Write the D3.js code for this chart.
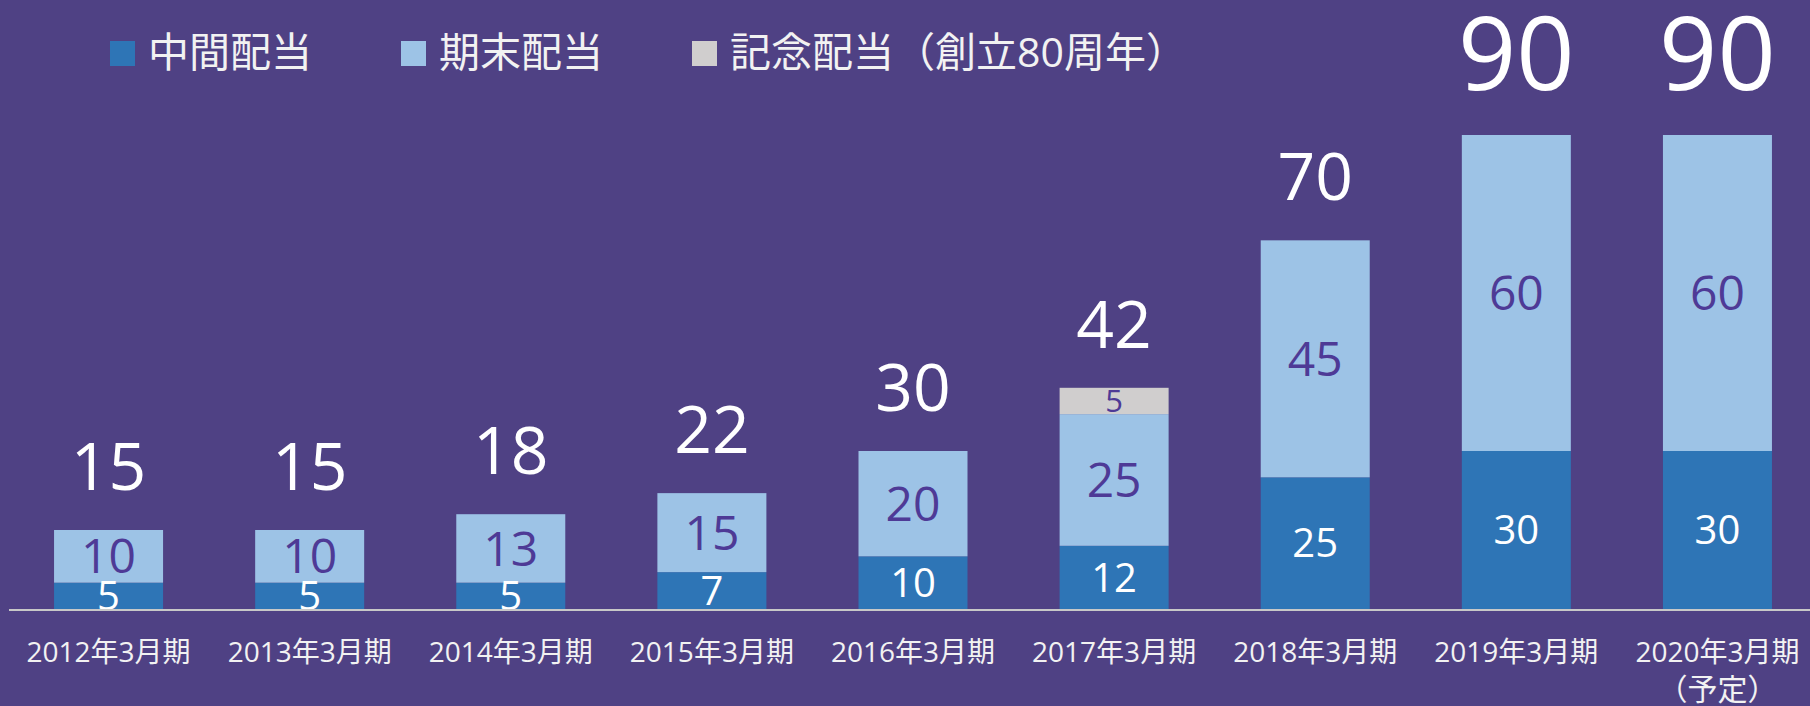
<!DOCTYPE html>
<html>
<head>
<meta charset="utf-8">
<script src="https://cdn.jsdelivr.net/npm/d3@7"></script>
<style>
  html, body { margin: 0; padding: 0; background: #4f4184; }
  svg { display: block; }
  text { font-family: "Open Sans", "Noto Sans CJK JP", sans-serif; }
</style>
</head>
<body>
<div id="chart"></div>
<script>
// 配当の推移（円）
const categories = ["2012年3月期", "2013年3月期", "2014年3月期", "2015年3月期", "2016年3月期",
                    "2017年3月期", "2018年3月期", "2019年3月期", "2020年3月期\n（予定）"];
const interim = [5, 5, 5, 7, 10, 12, 25, 30, 30];          // 中間配当
const yearEnd = [10, 10, 13, 15, 20, 25, 45, 60, 60];      // 期末配当
const commemorative = [0, 0, 0, 0, 0, 5, 0, 0, 0];         // 記念配当
const seriesNames = ["中間配当", "期末配当", "記念配当（創立80周年）"];

const width = 1810, height = 706;
const colors = ["#2e75b6", "#9dc3e6", "#d0cece"];
const labelColors = ["#ffffff", "#4e3a96", "#4e3a96"];
const labelSizes = [40, 48, 31];

const rows = categories.map((c, i) => ({cat: c, interim: interim[i], yearEnd: yearEnd[i], commemorative: commemorative[i]}));
const keys = ["interim", "yearEnd", "commemorative"];
const stacked = d3.stack().keys(keys)(rows);
const totals = rows.map(d => d.interim + d.yearEnd + d.commemorative);
const maxTotal = d3.max(totals);

const svg = d3.select("#chart").append("svg")
  .attr("width", width).attr("height", height);
svg.append("rect").attr("width", width).attr("height", height).attr("fill", "#4f4184");

const x = d3.scaleBand().domain(categories).range([8, 1818])
  .paddingInner(0.458).paddingOuter(0.229);
const y = d3.scaleLinear().domain([0, 90]).range([609, 135]);

// bars
const layers = svg.selectAll("g.layer").data(stacked).enter().append("g")
  .attr("class", "layer").attr("fill", (d, i) => colors[i]);
layers.selectAll("rect").data(d => d.filter(s => s[1] > s[0])).enter().append("rect")
  .attr("x", d => x(d.data.cat))
  .attr("width", x.bandwidth())
  .attr("y", d => y(d[1]))
  .attr("height", d => y(d[0]) - y(d[1]));

// segment labels
stacked.forEach((layer, li) => {
  const fs = labelSizes[li];
  svg.append("g").selectAll("text").data(layer.filter(s => s[1] > s[0])).enter().append("text")
    .attr("x", d => x(d.data.cat) + x.bandwidth() / 2)
    .attr("y", d => (y(d[0]) + y(d[1])) / 2 + fs * 0.357)
    .attr("text-anchor", "middle")
    .attr("font-size", fs)
    .attr("fill", labelColors[li])
    .text(d => d[1] - d[0]);
});

// totals
svg.append("g").selectAll("text").data(rows).enter().append("text")
  .attr("x", d => x(d.cat) + x.bandwidth() / 2)
  .attr("y", (d, i) => y(totals[i]) - (totals[i] === maxTotal ? 45 : 40))
  .attr("text-anchor", "middle")
  .attr("font-size", (d, i) => totals[i] === maxTotal ? 102 : 66)
  .attr("fill", "#ffffff")
  .text((d, i) => totals[i]);

// baseline
svg.append("line")
  .attr("x1", 9).attr("x2", width)
  .attr("y1", 610).attr("y2", 610)
  .attr("stroke", "#c8c8c8").attr("stroke-width", 2);

// x axis labels
const xl = svg.append("g").selectAll("text").data(categories).enter().append("text")
  .attr("x", d => x(d) + x.bandwidth() / 2)
  .attr("y", 662)
  .attr("text-anchor", "middle")
  .attr("font-size", 28)
  .attr("fill", "#f2f2f2");
xl.each(function(d) {
  const lines = d.split("\n");
  const t = d3.select(this);
  lines.forEach((ln, k) => {
    t.append("tspan").attr("x", t.attr("x")).attr("dy", k === 0 ? 0 : 38)
      .attr("font-size", k === 0 ? 28 : 30).text(ln);
  });
});

// legend
const legend = svg.append("g");
let lx = 110;
seriesNames.forEach((name, i) => {
  legend.append("rect").attr("x", lx).attr("y", 41).attr("width", 25).attr("height", 25)
    .attr("fill", colors[i]);
  const t = legend.append("text").attr("x", lx + 38).attr("y", 67)
    .attr("font-family", "'Noto Sans CJK JP', sans-serif")
    .attr("font-size", 41).attr("fill", "#f2f2f2").text(name);
  lx += 38 + t.node().getComputedTextLength() + 89;
});
</script>
</body>
</html>
